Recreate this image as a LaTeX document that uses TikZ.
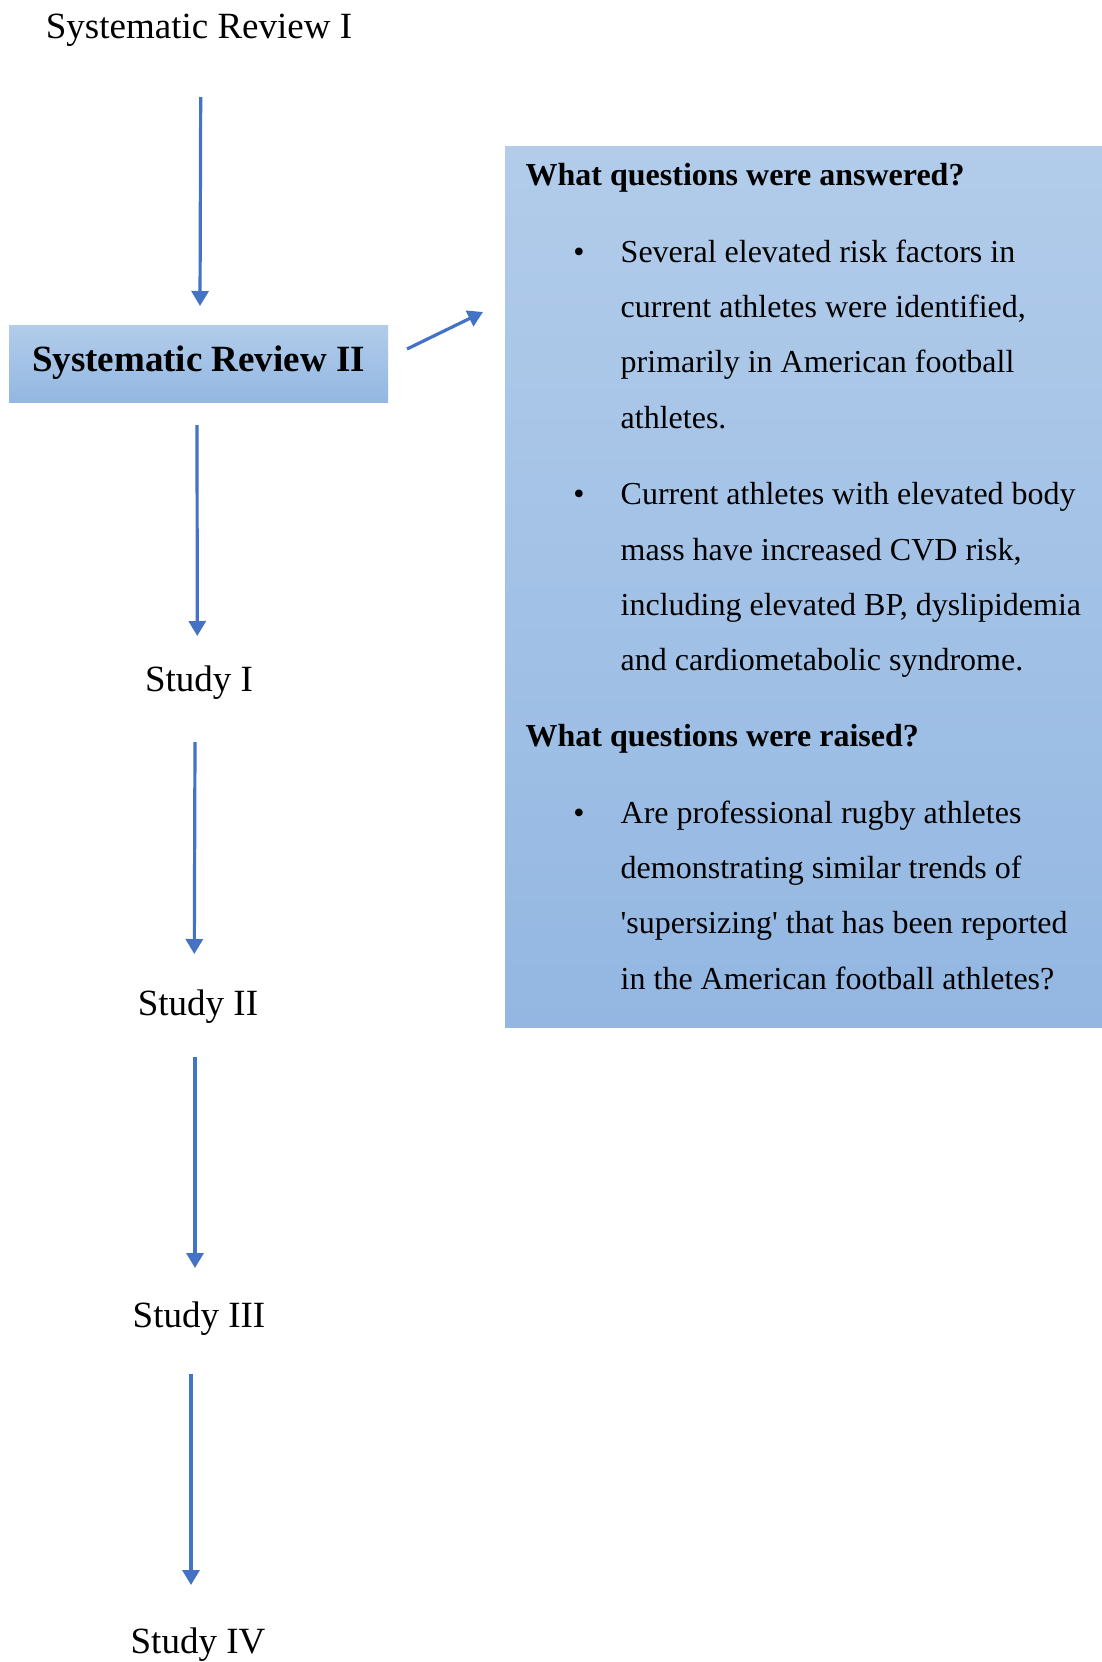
\documentclass[tikz,border=0pt]{standalone}
\usepackage{fontspec}
\setmainfont{Liberation Serif}
\usetikzlibrary{arrows.meta}
\definecolor{arrowblue}{HTML}{4472C4}
\definecolor{shadetop}{HTML}{B2CCEA}
\definecolor{shadebot}{HTML}{93B7E2}
\tikzset{
  label/.style={anchor=base, inner sep=0pt, font=\fontsize{37}{44}\selectfont},
  boxlabel/.style={anchor=base, inner sep=0pt, font=\fontsize{37}{44}\selectfont\bfseries},
  heading/.style={anchor=base west, inner sep=0pt, font=\fontsize{32}{38}\selectfont\bfseries},
  line/.style={anchor=base west, inner sep=0pt, font=\fontsize{32}{38}\selectfont},
  bul/.style={anchor=base, inner sep=0pt, font=\fontsize{32}{38}\selectfont},
  flow/.style={draw=arrowblue, line width=3.2pt, -{Triangle[width=17pt,length=15pt]}},
  panelfill/.style={top color=shadetop, bottom color=shadebot, draw=none}
}
\begin{document}
\begin{tikzpicture}[x=1pt,y=-1pt]
\useasboundingbox (0,0) rectangle (1102,1662);

% left column of stages
\node[label] (sr1) at (199,39) {Systematic Review I};
\path[panelfill] (9,325) rectangle (388,402);
\node[boxlabel] (sr2) at (198.5,371) {Systematic Review II};
\node[label] (s1) at (199,691.5) {Study I};
\node[label] (s2) at (198,1015) {Study II};
\node[label] (s3) at (199,1327.5) {Study III};
\node[label] (s4) at (198,1653.5) {Study IV};

% arrow end points
\coordinate (a1s) at (200.7,97);   \coordinate (a1e) at (200,306);
\coordinate (a2s) at (197,425);    \coordinate (a2e) at (197.3,636);
\coordinate (a3s) at (195,742);    \coordinate (a3e) at (194.3,954);
\coordinate (a4s) at (195,1057);   \coordinate (a4e) at (195,1268);
\coordinate (a5s) at (191,1374);   \coordinate (a5e) at (191,1585);
\coordinate (d0) at (407,349);     \coordinate (d1) at (483,312);

\draw[flow] (a1s) -- (a1e);
\draw[flow] (a2s) -- (a2e);
\draw[flow] (a3s) -- (a3e);
\draw[flow] (a4s) -- (a4e);
\draw[flow] (a5s) -- (a5e);
\draw[flow] (d0) -- (d1);

% summary panel
\path[panelfill] (505,146) rectangle (1102,1027);
\node[heading] (h1) at (525.5,185) {What questions were answered?};
\node[bul] (b1) at (579,262.2) {\textbullet};
\node[line] (l1) at (620.5,262.2) {Several elevated risk factors in};
\node[line] (l2) at (620.5,317.5) {current athletes were identified,};
\node[line] (l3) at (620.5,372.8) {primarily in American football};
\node[line] (l4) at (620.5,428.1) {athletes.};
\node[bul] (b2) at (579,504.8) {\textbullet};
\node[line] (l5) at (620.5,504.8) {Current athletes with elevated body};
\node[line] (l6) at (620.5,560.1) {mass have increased CVD risk,};
\node[line] (l7) at (620.5,615.4) {including elevated BP, dyslipidemia};
\node[line] (l8) at (620.5,670.7) {and cardiometabolic syndrome.};
\node[heading] (h2) at (525.5,746.6) {What questions were raised?};
\node[bul] (b3) at (579,823.3) {\textbullet};
\node[line] (l9) at (620.5,823.3) {Are professional rugby athletes};
\node[line] (l10) at (620.5,878.6) {demonstrating similar trends of};
\node[line] (l11) at (620.5,933.9) {\textquotesingle supersizing\textquotesingle{} that has been reported};
\node[line] (l12) at (620.5,989.2) {in the American football athletes?};
\end{tikzpicture}
\end{document}
